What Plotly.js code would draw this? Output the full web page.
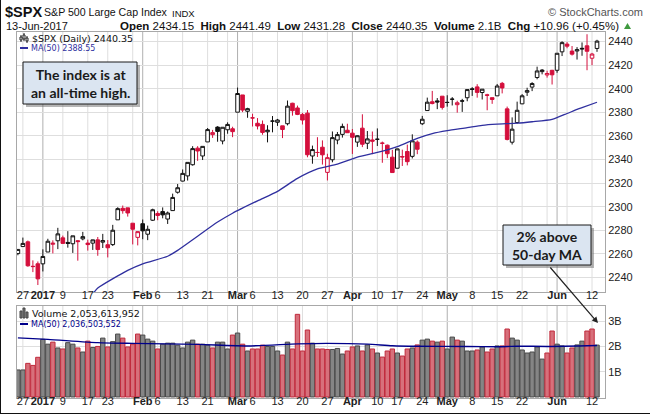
<!DOCTYPE html>
<html><head><meta charset="utf-8">
<script src="https://cdn.plot.ly/plotly-3.0.1.min.js"></script>
<style>html,body{margin:0;padding:0;background:#fff;}#chart{width:650px;height:415px;}</style>
</head><body><div id="chart"></div>
<script>
const dates = ["2016-12-23","2016-12-27","2016-12-28","2016-12-29","2016-12-30",
"2017-01-03","2017-01-04","2017-01-05","2017-01-06","2017-01-09","2017-01-10","2017-01-11","2017-01-12","2017-01-13","2017-01-17","2017-01-18","2017-01-19","2017-01-20","2017-01-23","2017-01-24","2017-01-25","2017-01-26","2017-01-27","2017-01-30","2017-01-31",
"2017-02-01","2017-02-02","2017-02-03","2017-02-06","2017-02-07","2017-02-08","2017-02-09","2017-02-10","2017-02-13","2017-02-14","2017-02-15","2017-02-16","2017-02-17","2017-02-21","2017-02-22","2017-02-23","2017-02-24","2017-02-27","2017-02-28",
"2017-03-01","2017-03-02","2017-03-03","2017-03-06","2017-03-07","2017-03-08","2017-03-09","2017-03-10","2017-03-13","2017-03-14","2017-03-15","2017-03-16","2017-03-17","2017-03-20","2017-03-21","2017-03-22","2017-03-23","2017-03-24","2017-03-27","2017-03-28","2017-03-29","2017-03-30","2017-03-31",
"2017-04-03","2017-04-04","2017-04-05","2017-04-06","2017-04-07","2017-04-10","2017-04-11","2017-04-12","2017-04-13","2017-04-17","2017-04-18","2017-04-19","2017-04-20","2017-04-21","2017-04-24","2017-04-25","2017-04-26","2017-04-27","2017-04-28",
"2017-05-01","2017-05-02","2017-05-03","2017-05-04","2017-05-05","2017-05-08","2017-05-09","2017-05-10","2017-05-11","2017-05-12","2017-05-15","2017-05-16","2017-05-17","2017-05-18","2017-05-19","2017-05-22","2017-05-23","2017-05-24","2017-05-25","2017-05-26","2017-05-30","2017-05-31",
"2017-06-01","2017-06-02","2017-06-05","2017-06-06","2017-06-07","2017-06-08","2017-06-09","2017-06-12","2017-06-13"];

const open = [2260.25,2266.23,2270.23,2249.50,2251.61,
2251.57,2261.60,2268.18,2271.14,2273.59,2269.72,2268.60,2271.14,2272.74,2269.14,2269.14,2271.90,2269.96,2267.78,2267.88,2288.88,2298.63,2299.02,2286.01,2274.02,
2285.59,2276.69,2288.54,2294.28,2295.87,2289.55,2296.70,2312.27,2321.72,2326.12,2335.58,2349.64,2343.01,2354.91,2361.11,2367.50,2355.73,2365.23,2366.08,
2380.13,2394.75,2380.92,2375.23,2370.74,2369.81,2363.49,2372.52,2371.56,2368.55,2370.34,2387.71,2383.71,2378.24,2379.32,2343.00,2345.97,2350.42,2329.11,2339.79,2356.54,2361.31,2364.82,
2362.34,2354.76,2366.59,2353.79,2356.59,2357.16,2353.92,2352.15,2341.98,2332.62,2342.53,2346.79,2342.69,2354.74,2370.33,2381.51,2388.98,2389.70,2393.68,
2388.50,2391.05,2386.50,2389.79,2392.37,2399.94,2401.58,2396.79,2394.84,2392.44,2393.98,2404.55,2382.95,2354.69,2371.37,2387.21,2397.04,2401.41,2409.54,2414.50,2411.67,2415.63,
2415.65,2431.28,2437.83,2431.92,2432.03,2434.27,2436.39,2425.88,2434.15];

const high = [2263.79,2273.82,2271.31,2254.51,2253.58,
2263.88,2272.82,2271.50,2282.10,2275.49,2279.27,2275.32,2271.78,2278.68,2272.08,2272.01,2274.33,2276.96,2271.78,2284.63,2299.55,2300.99,2299.02,2286.01,2279.09,
2289.14,2283.97,2298.31,2296.18,2299.40,2295.91,2311.08,2319.23,2331.58,2337.58,2351.30,2351.31,2351.16,2366.71,2365.13,2368.26,2367.34,2371.54,2367.79,
2400.98,2394.75,2383.89,2378.80,2375.12,2373.09,2369.08,2376.86,2374.42,2368.55,2390.01,2388.10,2385.71,2379.55,2381.93,2351.81,2358.92,2356.22,2344.90,2363.78,2363.36,2370.42,2370.35,
2365.87,2360.53,2378.36,2364.16,2363.76,2366.37,2355.22,2352.72,2348.26,2349.14,2348.35,2352.63,2361.37,2356.18,2376.98,2392.48,2398.16,2392.10,2393.68,
2394.49,2392.93,2389.82,2391.43,2399.29,2401.36,2403.87,2399.74,2395.72,2392.44,2404.05,2405.77,2384.87,2375.74,2389.06,2395.46,2400.85,2405.58,2418.71,2416.68,2415.26,2415.99,
2430.06,2440.23,2439.55,2436.21,2435.28,2439.27,2446.20,2430.38,2441.49];

const low = [2258.84,2266.15,2249.11,2244.56,2233.62,
2245.13,2261.60,2260.45,2264.06,2268.90,2265.27,2260.83,2254.25,2271.51,2262.81,2263.35,2258.41,2265.01,2257.02,2266.68,2288.88,2294.08,2291.62,2268.04,2267.21,
2272.44,2271.65,2287.88,2288.57,2290.16,2285.38,2296.61,2311.10,2321.42,2322.17,2334.81,2338.87,2339.58,2354.91,2358.34,2355.09,2352.87,2361.87,2358.96,
2380.13,2380.17,2375.39,2367.98,2365.51,2361.01,2354.54,2363.04,2368.52,2358.18,2368.94,2377.18,2377.64,2369.66,2341.90,2336.45,2342.13,2335.74,2322.25,2337.63,2352.94,2358.58,2362.60,
2344.73,2350.72,2350.52,2348.90,2344.54,2351.50,2337.25,2341.18,2328.95,2332.51,2334.54,2335.05,2340.91,2344.51,2369.19,2381.15,2386.78,2382.68,2382.36,
2384.83,2385.82,2379.75,2380.35,2389.38,2393.92,2392.44,2390.88,2381.74,2387.19,2393.94,2396.05,2356.21,2352.72,2370.43,2386.92,2393.88,2397.99,2408.01,2412.20,2409.43,2403.59,
2413.54,2427.71,2434.32,2428.12,2424.75,2427.94,2415.70,2419.97,2431.28];

const close = [2263.79,2268.88,2249.92,2249.26,2238.83,
2257.83,2270.75,2269.00,2276.98,2268.90,2268.90,2275.32,2270.44,2274.64,2267.89,2271.89,2263.69,2271.31,2265.20,2280.07,2298.37,2296.68,2294.69,2280.90,2278.87,
2279.55,2280.85,2297.42,2292.56,2293.08,2294.67,2307.87,2316.10,2328.25,2337.58,2349.25,2347.22,2351.16,2365.38,2362.82,2363.81,2367.34,2369.75,2363.64,
2395.96,2381.92,2383.12,2375.31,2368.39,2362.98,2364.87,2372.60,2373.47,2365.45,2385.26,2381.38,2378.25,2373.47,2344.02,2348.45,2345.96,2343.98,2341.59,2358.57,2361.13,2368.06,2362.72,
2358.84,2360.16,2352.95,2357.49,2355.54,2357.16,2353.78,2344.93,2328.95,2349.01,2342.19,2338.17,2355.84,2348.69,2374.15,2388.61,2387.45,2388.77,2384.20,
2388.33,2391.17,2388.13,2389.52,2399.29,2399.38,2396.92,2399.63,2394.44,2390.90,2402.32,2400.67,2357.03,2365.72,2381.73,2394.02,2398.42,2404.39,2415.07,2415.82,2412.91,2411.80,
2430.06,2439.07,2436.10,2429.33,2433.14,2433.79,2431.77,2429.39,2440.35];

// volume in billions of shares
const volume = [1.07,1.07,1.33,1.25,1.57,
2.28,2.09,2.17,1.94,1.90,2.15,2.09,1.94,1.78,2.21,1.96,2.00,2.33,1.98,2.19,2.49,2.33,1.98,2.09,2.49,
2.45,2.29,2.21,1.90,2.09,2.13,2.13,2.05,1.94,2.17,2.25,2.09,2.09,2.05,1.94,2.17,2.17,1.90,2.45,
2.53,2.09,1.82,1.90,1.90,2.05,2.00,2.00,1.82,1.66,2.17,1.90,3.27,1.82,2.65,2.13,1.90,1.90,1.88,1.88,1.92,1.70,1.82,
1.98,2.02,1.82,2.06,1.90,1.74,1.58,1.82,1.90,1.74,1.62,1.90,1.94,2.06,2.25,2.29,2.21,2.17,2.21,
1.90,2.37,2.25,2.21,1.82,1.82,1.86,1.98,1.78,1.90,2.02,2.02,2.69,2.33,2.25,1.86,1.74,1.78,1.98,1.50,1.74,2.61,
2.09,2.02,1.74,1.94,2.06,2.21,2.61,2.69,2.053613952];

const maDates = ["2017-01-18","2017-01-19","2017-01-27","2017-02-01","2017-02-08","2017-02-10","2017-02-16","2017-02-23","2017-02-28","2017-03-07","2017-03-13","2017-03-17","2017-03-23","2017-03-29","2017-04-04","2017-04-10","2017-04-17","2017-04-21","2017-04-26","2017-05-01","2017-05-05","2017-05-10","2017-05-15","2017-05-19","2017-05-24","2017-05-31","2017-06-05","2017-06-07","2017-06-08","2017-06-13"];
const maValues = [2226,2231,2246,2251.6,2258,2263,2275,2287,2294.5,2305,2313,2324,2332,2336,2342,2346,2351,2358,2362,2364.5,2367,2369,2370,2370.8,2372,2374,2379,2382.5,2384,2388.55];

const volMaDates = ["2016-12-23","2017-01-04","2017-01-19","2017-01-30","2017-02-16","2017-03-03","2017-03-17","2017-03-27","2017-04-06","2017-04-13","2017-04-21","2017-05-05","2017-05-15","2017-05-19","2017-05-30","2017-06-13"];
const volMaValues = [2.34,2.28,2.15,2.12,2.08,2.02,2.10,2.12,2.09,2.03,2.01,2.00,1.99,2.01,2.00,2.036503552];

const tickDates = ["2016-12-27","2017-01-03","2017-01-09","2017-01-17","2017-01-23","2017-01-30","2017-02-01","2017-02-06","2017-02-13","2017-02-21","2017-02-27","2017-03-01","2017-03-06","2017-03-13","2017-03-20","2017-03-27","2017-04-03","2017-04-10","2017-04-17","2017-04-24","2017-05-01","2017-05-08","2017-05-15","2017-05-22","2017-05-30","2017-06-01","2017-06-05","2017-06-12"];
const tickLabels = ["27","<b>2017</b>","9","17","23","","<b>Feb</b>","6","13","21","","<b>Mar</b>","6","13","20","27","<b>Apr</b>","10","17","24","<b>May</b>","8","15","22","","<b>Jun</b>","","12"];
const monthStarts = ["2017-01-03","2017-02-01","2017-03-01","2017-04-03","2017-05-01","2017-06-01"];
const priceTicks = [2240,2260,2280,2300,2320,2340,2360,2380,2400,2420,2440];
const volTicks = [1,2,3];
const volTickLabels = ["1B","2B","3B"];

// ---- geometry helpers (pixel -> paper) ----
const L=17, R=605, T=32, B=398;
const px = v => (v-L)/(R-L);
const py = v => (B-v)/(B-T);

const RED = '#d40f3c', BLK = '#111111';
const n = dates.length;
const prev = i => (i>0 ? close[i-1] : open[i]);

function candleTrace(hollow, colour){
  const t = {type:'candlestick', x:[], open:[], high:[], low:[], close:[], xaxis:'x', yaxis:'y',
    whiskerwidth:0, hoverinfo:'skip', showlegend:false};
  for(let i=0;i<n;i++){
    const isHollow = close[i] >= open[i];
    const isUp = close[i] >= prev(i);
    if(isHollow===hollow && (isUp ? BLK : RED)===colour){
      t.x.push(dates[i]); t.open.push(open[i]); t.high.push(high[i]); t.low.push(low[i]); t.close.push(close[i]);
    }
  }
  const st = {line:{color:colour, width:1}, fillcolor: hollow ? '#ffffff' : colour};
  t.increasing = st; t.decreasing = st;
  return t;
}

const volColors = [], volLines = [];
for(let i=0;i<n;i++){
  const up = close[i] >= prev(i);
  volColors.push(up ? '#858585' : '#d7707b');
  volLines.push(up ? '#4a4a4a' : '#c02a3c');
}

const traces = [
  candleTrace(true, BLK), candleTrace(true, RED), candleTrace(false, BLK), candleTrace(false, RED),
  {type:'scatter', mode:'lines', x:maDates, y:maValues, xaxis:'x', yaxis:'y',
   line:{color:'#2f2f9f', width:1.3, shape:'spline', smoothing:0.6}, hoverinfo:'skip', showlegend:false},
  {type:'bar', x:dates, y:volume, xaxis:'x2', yaxis:'y2',
   marker:{color:volColors, line:{color:volLines, width:1}}, hoverinfo:'skip', showlegend:false},
  {type:'scatter', mode:'lines', x:volMaDates, y:volMaValues, xaxis:'x2', yaxis:'y2',
   line:{color:'#00008b', width:1.4, shape:'spline', smoothing:0.6}, hoverinfo:'skip', showlegend:false}
];

const FONT = 'Liberation Sans, Arial, sans-serif';
const VFONT = 'DejaVu Sans, Verdana, sans-serif';

const xCommon = {type:'category', categoryorder:'array', categoryarray:dates, range:[-0.18,117.6],
  tickmode:'array', tickvals:tickDates, ticktext:tickLabels, ticks:'', tickangle:0, ticklabelstandoff:-7,
  showgrid:false, showline:true, mirror:true, linecolor:'#a8a8a8', linewidth:1, zeroline:false,
  tickfont:{family:FONT, size:11, color:'#222'}, fixedrange:true, rangeslider:{visible:false}};

const shapes = [];
tickDates.forEach(d => {
  const isMonth = monthStarts.indexOf(d) >= 0;
  const ln = {color: isMonth ? '#b0b0b0' : '#dedede', width:1};
  shapes.push({type:'line', xref:'x', yref:'y domain', x0:d, x1:d, y0:0, y1:1, layer:'below', line:ln});
  shapes.push({type:'line', xref:'x2', yref:'y2 domain', x0:d, x1:d, y0:0, y1:1, layer:'below', line:ln});
});
function box(x0,y0,x1,y1){
  shapes.push({type:'rect', xref:'paper', yref:'paper', x0:px(x0+3), x1:px(x1+3), y0:py(y1+3), y1:py(y0+3), layer:'above',
    line:{width:0}, fillcolor:'rgba(90,90,90,0.45)'});
  shapes.push({type:'rect', xref:'paper', yref:'paper', x0:px(x0), x1:px(x1), y0:py(y1), y1:py(y0), layer:'above',
    line:{color:'#1a1a1a', width:1}, fillcolor:'#dbe5f1'});
}
box(23,62,137,104);
box(503,225,591,265);
// legend icons
shapes.push({type:'line', xref:'paper', yref:'paper', x0:px(20), x1:px(28), y0:py(48), y1:py(48), layer:'above', line:{color:'#2f2f9f', width:2}});
shapes.push({type:'line', xref:'paper', yref:'paper', x0:px(20), x1:px(28), y0:py(324), y1:py(324), layer:'above', line:{color:'#00008b', width:2}});
[[20,35,42],[23,33,41],[26,36,43]].forEach(([x,a,b]) => {
  shapes.push({type:'line', xref:'paper', yref:'paper', x0:px(x+1), x1:px(x+1), y0:py(b), y1:py(a), layer:'above', line:{color:'#222', width:1}});
  shapes.push({type:'rect', xref:'paper', yref:'paper', x0:px(x), x1:px(x+2), y0:py(b-2), y1:py(a+2), layer:'above', line:{color:'#222', width:1}, fillcolor:'#fff'});
});
[[20,311],[23,308],[26,312]].forEach(([x,top]) => {
  shapes.push({type:'rect', xref:'paper', yref:'paper', x0:px(x), x1:px(x+2), y0:py(318), y1:py(top), layer:'above', line:{color:'#444', width:1}, fillcolor:'#777'});
});
// green up-triangle after the change figure
shapes.push({type:'path', xref:'paper', yref:'paper', layer:'above',
  path:`M ${px(624)} ${py(29)} L ${px(631)} ${py(29)} L ${px(627.5)} ${py(23)} Z`, fillcolor:'#3f9a3f', line:{width:0}});
// outer frame (left and bottom edges)
shapes.push({type:'line', xref:'paper', yref:'paper', x0:px(0.5), x1:px(0.5), y0:py(0), y1:py(414), layer:'above', line:{color:'#111', width:1}});
shapes.push({type:'line', xref:'paper', yref:'paper', x0:px(0), x1:px(650), y0:py(413.5), y1:py(413.5), layer:'above', line:{color:'#111', width:1}});

const last = n-1;
const chg = close[last]-close[last-1];
const pct = chg/close[last-1]*100;
const fmtInt = v => Math.round(v*1e9).toLocaleString('en-US');
const hdr = `<b>Open</b> ${open[last].toFixed(2)}  <b>High</b> ${high[last].toFixed(2)}  <b>Low</b> ${low[last].toFixed(2)}  <b>Close</b> ${close[last].toFixed(2)}  <b>Volume</b> ${volume[last].toFixed(1)}B  <b>Chg</b> ${chg>=0?'+':''}${chg.toFixed(2)} (${pct>=0?'+':''}${pct.toFixed(2)}%)`;

function ann(x,y,text,font,opts){
  return Object.assign({xref:'paper', yref:'paper', x:px(x), y:py(y), text:text, showarrow:false,
    xanchor:'left', yanchor:'middle', font:font}, opts||{});
}
const annotations = [
  ann(3,12,'<b>$SPX</b>',{family:FONT,size:14.5,color:'#111'}),
  ann(42,12,'S&amp;P 500 Large Cap Index',{family:FONT,size:10.6,color:'#111'}),
  ann(170,13,'INDX',{family:FONT,size:9.5,color:'#111'}),
  ann(645,12,'© StockCharts.com',{family:FONT,size:11,color:'#555'},{xanchor:'right'}),
  ann(4,26,'13-Jun-2017',{family:FONT,size:11,color:'#111'}),
  ann(621,26,hdr,{family:FONT,size:11.5,color:'#111'},{xanchor:'right'}),
  ann(30,38,'$SPX (Daily) '+close[last].toFixed(2),{family:VFONT,size:9.5,color:'#111'}),
  ann(29,48,'MA(50) '+maValues[maValues.length-1].toFixed(2),{family:VFONT,size:8,color:'#2f2f9f'}),
  ann(30,313,'Volume '+fmtInt(volume[last]),{family:VFONT,size:9.5,color:'#111'}),
  ann(29,324,'MA(50) '+fmtInt(volMaValues[volMaValues.length-1]),{family:VFONT,size:8,color:'#00008b'}),
  ann(80,83,'<b>The index is at<br>an all-time high.</b>',{family:'Lato, Open Sans, sans-serif',size:14,color:'#1a1a1a'},{xanchor:'center'}),
  ann(547,245,'<b>2% above<br>50-day MA</b>',{family:'Lato, Open Sans, sans-serif',size:14,color:'#1a1a1a'},{xanchor:'center'}),
  {xref:'paper', yref:'paper', x:px(598), y:py(323), ax:-49, ay:-57, text:'', showarrow:true,
   arrowhead:2, arrowsize:1, arrowwidth:1.2, arrowcolor:'#222', standoff:0}
];

const layout = {
  width:650, height:415, margin:{l:L, r:650-R, t:T, b:415-B},
  paper_bgcolor:'#fff', plot_bgcolor:'#fff', showlegend:false,
  boxgap:0.15, boxgroupgap:0.15, bargap:0.12,
  xaxis: Object.assign({}, xCommon, {anchor:'y', domain:[0,1]}),
  xaxis2: Object.assign({}, xCommon, {anchor:'y2', domain:[0,1], matches:'x'}),
  yaxis: {domain:[py(292),1], range:[2227.7,2448.1], side:'right', tickmode:'array', tickvals:priceTicks,
    ticks:'', showgrid:true, gridcolor:'#dedede', showline:true, mirror:true, linecolor:'#a8a8a8', zeroline:false,
    tickfont:{family:FONT,size:11,color:'#222'}, fixedrange:true},
  yaxis2: {domain:[0,py(306)], range:[-0.04,3.6], side:'right', tickmode:'array', tickvals:volTicks, ticktext:volTickLabels,
    ticks:'', showgrid:true, gridcolor:'#dedede', showline:true, mirror:true, linecolor:'#a8a8a8', zeroline:false,
    tickfont:{family:FONT,size:11,color:'#222'}, fixedrange:true},
  shapes: shapes,
  annotations: annotations
};

Plotly.newPlot('chart', traces, layout, {staticPlot:true, displayModeBar:false});
</script>
</body></html>
